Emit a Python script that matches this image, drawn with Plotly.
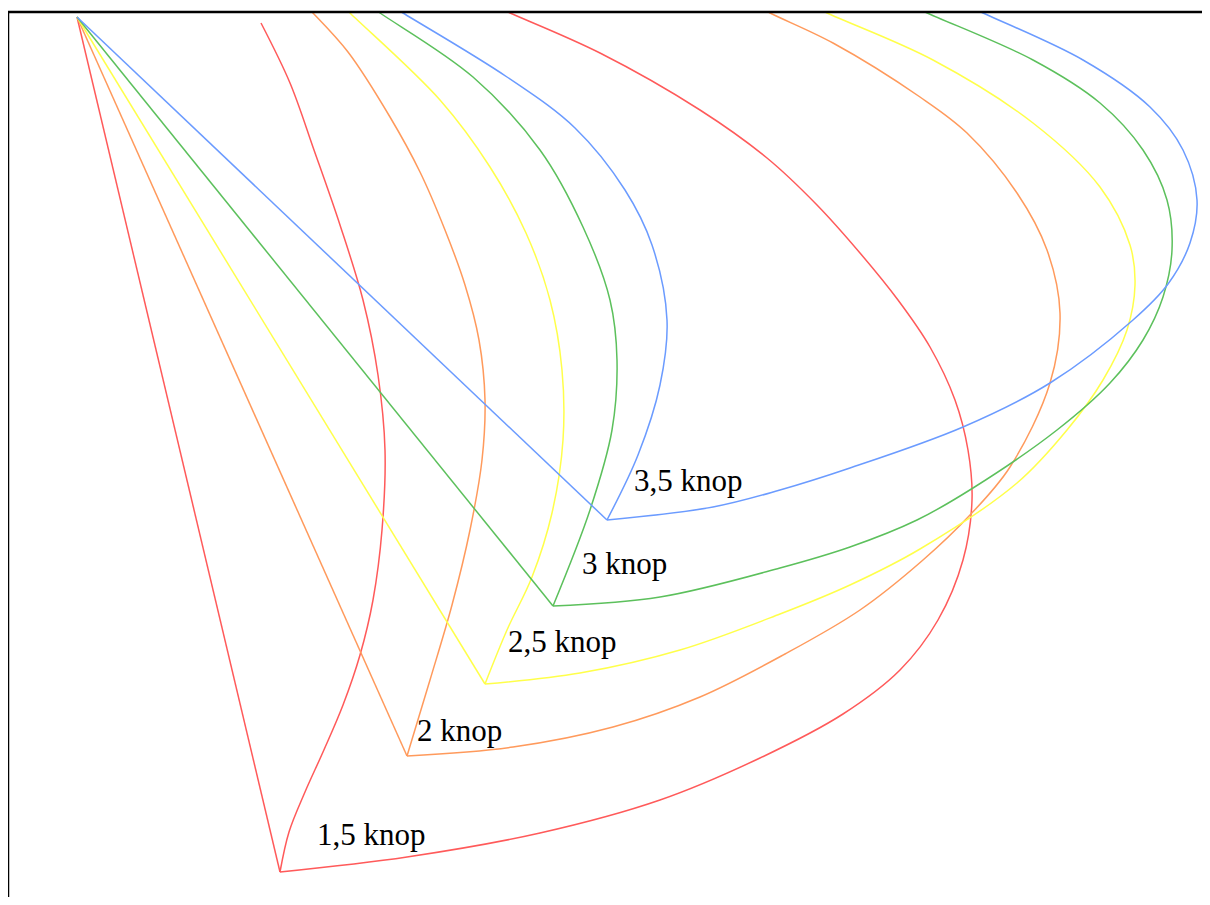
import plotly.graph_objects as go

# common starting point
origin_x = [0]
origin_y = [0]

labels = ["1,5 knop", "2 knop", "2,5 knop", "3 knop", "3,5 knop"]
colors = ["#ff5a5a", "#ff9a5c", "#ffff4a", "#5cc05c", "#6b9bff"]

# end points of the straight legs
end_x = [203, 330, 408, 476, 530]
end_y = [855, 739, 667, 589, 503]

# branch going upward (from end point)
up15_x = [203, 212, 228, 246, 266, 283, 296, 305, 308, 301, 286, 263, 237, 213, 184]
up15_y = [855, 815, 775, 735, 688, 638, 583, 513, 433, 358, 283, 208, 133, 66, 6]
up20_x = [330, 353, 375, 393, 405, 408, 402, 388, 368, 343, 313, 271, 235, 223]
up20_y = [739, 663, 588, 513, 443, 383, 323, 268, 213, 155, 100, 35, -5, -17]
up25_x = [408, 430, 455, 475, 486, 485, 473, 449, 413, 363, 273, 260]
up25_y = [667, 613, 560, 496, 423, 353, 283, 216, 150, 83, -4, -17]
up30_x = [476, 513, 535, 540, 533, 506, 463, 396, 303, 284]
up30_y = [589, 493, 413, 343, 283, 210, 133, 60, -4, -17]
up35_x = [530, 561, 583, 590, 575, 548, 498, 430, 326, 305]
up35_y = [503, 438, 368, 303, 228, 173, 111, 60, -4, -17]

# branch going to the right (from end point)
rt15_x = [203, 330, 463, 583, 683, 766, 823, 861, 886, 895, 891, 878, 853, 821, 783, 740, 690, 623, 523, 433, 403]
rt15_y = [855, 840, 816, 783, 741, 697, 653, 603, 543, 483, 433, 383, 330, 283, 236, 188, 141, 93, 36, -4, -17]
rt20_x = [330, 436, 536, 623, 708, 783, 846, 893, 933, 973, 983, 970, 940, 890, 843, 756, 693, 668]
rt20_y = [739, 730, 710, 680, 637, 593, 543, 498, 450, 366, 296, 233, 176, 116, 80, 26, -4, -17]
rt25_x = [408, 503, 603, 703, 773, 843, 940, 990, 1026, 1050, 1058, 1053, 1023, 956, 856, 750, 723]
rt25_y = [667, 656, 633, 597, 568, 532, 466, 413, 363, 313, 268, 228, 170, 106, 43, -4, -17]
rt30_x = [476, 583, 703, 773, 840, 896, 980, 1033, 1066, 1086, 1095, 1090, 1066, 1023, 956, 848, 823]
rt30_y = [589, 580, 551, 530, 503, 471, 413, 366, 323, 280, 233, 183, 133, 86, 43, -5, -17]
rt35_x = [530, 636, 703, 773, 886, 973, 1056, 1091, 1113, 1120, 1106, 1073, 1006, 906, 878]
rt35_y = [503, 490, 473, 451, 410, 366, 303, 267, 226, 183, 133, 90, 43, -4, -17]

# label positions (left edge, vertical middle)
label_x = [238, 338, 429, 503, 555]
label_y = [817, 713, 624, 546, 463]

ups = [(up15_x, up15_y), (up20_x, up20_y), (up25_x, up25_y), (up30_x, up30_y), (up35_x, up35_y)]
rts = [(rt15_x, rt15_y), (rt20_x, rt20_y), (rt25_x, rt25_y), (rt30_x, rt30_y), (rt35_x, rt35_y)]

fig = go.Figure()
for i in range(5):
    c = colors[i]
    fig.add_trace(go.Scatter(x=[origin_x[0], end_x[i]], y=[origin_y[0], end_y[i]], mode="lines",
                             line=dict(color=c, width=1.5), hoverinfo="skip"))
    for bx, by in (ups[i], rts[i]):
        fig.add_trace(go.Scatter(x=bx, y=by, mode="lines",
                                 line=dict(color=c, width=1.5, shape="spline", smoothing=1.0,
                                           simplify=False),
                                 hoverinfo="skip"))
    fig.add_annotation(x=label_x[i], y=label_y[i], text=labels[i], showarrow=False,
                       xanchor="left", yanchor="middle",
                       font=dict(family="Liberation Serif, Times New Roman, serif", size=31, color="black"))

fig.update_layout(
    width=1202, height=889,
    margin=dict(l=0, r=0, t=4, b=0),
    paper_bgcolor="white", plot_bgcolor="white",
    showlegend=False,
    xaxis=dict(range=[-69, 1133], showgrid=False, zeroline=False, showticklabels=False,
               ticks="", fixedrange=True),
    yaxis=dict(range=[880, -5], showgrid=False, zeroline=False, showticklabels=False,
               ticks="", fixedrange=True),
    shapes=[
        dict(type="line", xref="paper", yref="paper", x0=0, x1=1, y0=1, y1=1,
             line=dict(color="black", width=2.5)),
        dict(type="line", xref="paper", yref="paper", x0=0, x1=0, y0=0, y1=1,
             line=dict(color="black", width=2.5)),
    ],
)

fig.write_html("out.html", config={"displayModeBar": False})
